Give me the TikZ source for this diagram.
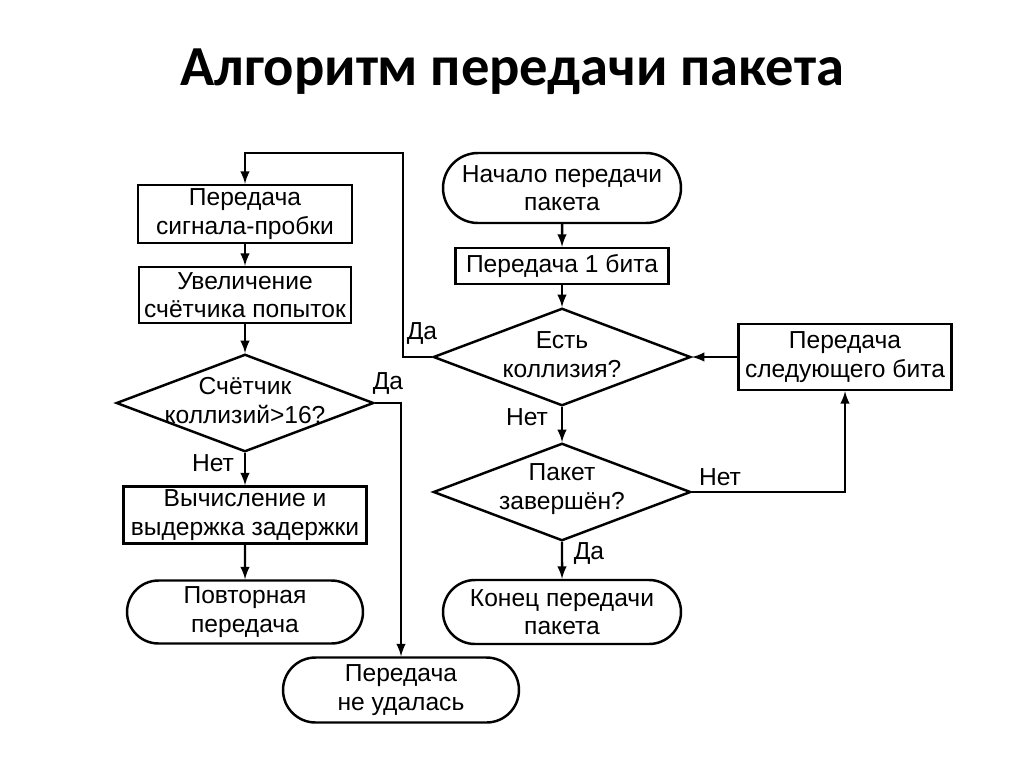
\documentclass[tikz,border=0pt]{standalone}
\usepackage{fontspec}
\setmainfont{Liberation Sans}
\newfontfamily\titlefont{Carlito}
\usetikzlibrary{arrows,shapes.geometric,shapes.misc}

\begin{document}
\begin{tikzpicture}[x=0.02cm,y=-0.02cm,line width=1.4pt,font=\fontsize{14}{16.3}\selectfont,
                     blk/.style={draw,rectangle,align=center,inner sep=0pt},
                     term/.style={draw,rounded rectangle,align=center,inner sep=0pt},
                     cond/.style={draw,diamond,inner sep=0pt,minimum width=5.15cm,minimum height=1.95cm},
                     every label/.style={align=center,inner sep=0pt,yshift=1.5pt}]
                                     \useasboundingbox(0,0)rectangle(1024,768);
                                     \node[font=\titlefont\bfseries\fontsize{32.2}{36}\selectfont](title)at(512,72){Алгоритм передачи пакета};
                                     % left column
                                     \node[blk,minimum width=4.28cm,minimum height=1.16cm](jam)at(245,214){Передача\\сигнала-пробки};
                                     \node[blk,minimum width=4.24cm,minimum height=1.12cm](inc)at(245,295){Увеличение\\счётчика попыток};
                                     \node[cond,label=center:{Счётчик\\коллизий>16?}](cd)at(245,403){};
                                     \node[blk,minimum width=4.86cm,minimum height=1.14cm](delay)at(245,515){Вычисление и\\выдержка задержки};
                                     \node[term,minimum width=4.72cm,minimum height=1.26cm](retry)at(245,612){Повторная\\передача};
                                     \node[term,minimum width=4.72cm,minimum height=1.30cm](fail)at(401,690){Передача\\не удалась};
                                     % right column
                                     \node[term,minimum width=4.76cm,minimum height=1.40cm](start)at(562,188){Начало передачи\\пакета};
                                     \node[blk,minimum width=4.26cm,minimum height=0.72cm](bit1)at(562,266){Передача 1 бита};
                                     \node[cond,label=center:{Есть\\коллизия?}](d1)at(562,357){};
                                     \node[cond,label=center:{Пакет\\завершён?}](d2)at(562,492){};
                                     \node[term,minimum width=4.76cm,minimum height=1.28cm](end)at(562,612){Конец передачи\\пакета};
                                     \node[blk,minimum width=4.26cm,minimum height=1.32cm](next)at(845,357){Передача\\следующего бита};
                                     \coordinate(loop)at(403,153);
                                     \draw[-latex](start)--(bit1);
                                     \draw[-latex](bit1)--(d1);
                                     \draw[-latex](d1)--(d2);
                                     \draw[-latex](d2)--(end);
                                     \draw[-latex](d2.east)-|(next.south);
                                     \draw[-latex](next)--(d1);
                                     \draw[-latex](d1.west)-|(loop)-|(jam.north);
                                     \draw[-latex](jam)--(inc);
                                     \draw[-latex](inc)--(cd);
                                     \draw[-latex](cd)--(delay);
                                     \draw[-latex](delay)--(retry);
                                     \draw[-latex](cd.east)-|(fail.north);
                                     \node(yes1)at(422,333){Да};
                                     \node(no1)at(527,417){Нет};
                                     \node(no2)at(720,477){Нет};
                                     \node(yes2)at(589,553){Да};
                                     \node(yes3)at(388,383){Да};
                                     \node(no3)at(213,463){Нет};
                                 \end{tikzpicture}
\end{document}
